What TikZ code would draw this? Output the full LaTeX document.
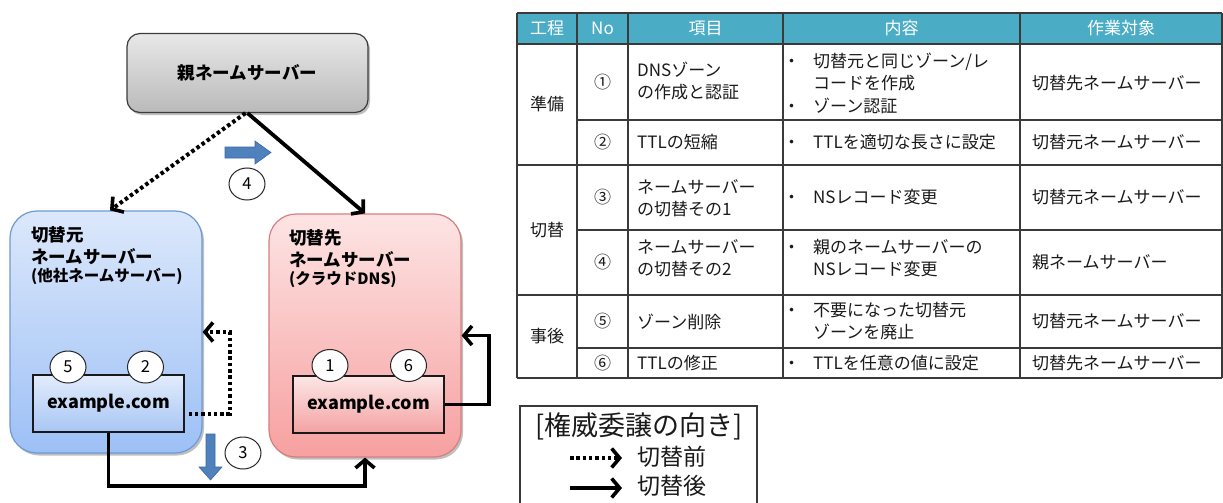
\documentclass[tikz,border=0pt]{standalone}
\usepackage{fontspec}
\setmainfont{Noto Sans CJK JP}
\usetikzlibrary{arrows.meta,shadows,shapes.geometric}
\definecolor{pgtop}{HTML}{E8E8E8}
\definecolor{pgbot}{HTML}{BABABA}
\definecolor{pgline}{HTML}{3C3C3C}
\definecolor{bltop}{HTML}{DCE8FB}
\definecolor{blbot}{HTML}{9DC0F6}
\definecolor{blline}{HTML}{6C9BD2}
\definecolor{rdtop}{HTML}{FDE4E4}
\definecolor{rdbot}{HTML}{F7A0A0}
\definecolor{rdline}{HTML}{D77F7F}
\definecolor{bztop}{HTML}{E2ECFC}
\definecolor{bzbot}{HTML}{A8C6F4}
\definecolor{rztop}{HTML}{FDE6E6}
\definecolor{rzbot}{HTML}{F4A2A2}
\definecolor{blkarrow}{HTML}{4F81BD}
\definecolor{blkedge}{HTML}{3A6AA5}
\definecolor{hdrfill}{HTML}{4BACC6}
\definecolor{tline}{HTML}{3A3A3A}
\definecolor{ttext}{HTML}{1A1A1A}
\newcommand\tbul{\makebox[30pt][l]{・}}
\newcommand\tind{\hspace*{30pt}}
\begin{document}
\begin{tikzpicture}[x=1pt,y=-1pt,
  shd/.style={drop shadow={shadow xshift=2pt,shadow yshift=-2.5pt,opacity=0.25,fill=black}},
  bigbox/.style={rounded corners=27pt,line width=1.2pt,inner sep=0,shd},
  zonebox/.style={draw=black!90,line width=1.3pt,minimum width=151pt,minimum height=57pt,inner sep=0,
     font=\fontsize{18}{20}\selectfont\bfseries},
  numc/.style={ellipse,draw=black!85,line width=1pt,fill=white,minimum width=36pt,minimum height=32pt,
     inner sep=0,font=\fontsize{16.5}{16.5}\selectfont},
  boxlbl/.style={anchor=base west,inner sep=0,font=\fontsize{17.5}{20}\selectfont\bfseries},
  boxsub/.style={anchor=base west,inner sep=0,font=\fontsize{15.5}{17}\selectfont\bfseries},
  solidarrow/.style={line width=3.8pt,-{Straight Barb[length=8pt,width=19pt,line width=3.6pt]}},
  dotarrow/.style={line width=4pt,dash pattern=on 3.5pt off 2.8pt,-{Straight Barb[length=8pt,width=19pt,line width=3.6pt]}},
  blockarrow/.style={fill=blkarrow,draw=blkedge,line width=0.6pt},
  hdr/.style={inner sep=0,text=white,font=\fontsize{17}{22.5}\selectfont},
  cell/.style={inner sep=0,text=ttext,align=left,anchor=west,font=\fontsize{17}{22.5}\selectfont},
  ccell/.style={inner sep=0,text=ttext,font=\fontsize{17}{22.5}\selectfont},
  tgrid/.style={draw=tline,line width=1.3pt},
  tgridb/.style={draw=tline,line width=1.8pt},
  legtxt/.style={inner sep=0,text=ttext}
]
\clip (0,0) rectangle (1223,503);
\fill[white] (0,0) rectangle (1223,503);

% ---------------- diagram ----------------
\node[draw=pgline,line width=1.2pt,rounded corners=13pt,top color=pgtop,bottom color=pgbot,
      minimum width=241pt,minimum height=79pt,inner sep=0,shd,
      font=\fontsize{17.5}{20}\selectfont\bfseries] (parent) at (247.5,73) {親ネームサーバー};

\node[bigbox,draw=blline,top color=bltop,bottom color=blbot,minimum width=192pt,minimum height=242pt] (src) at (106,332) {};
\node[bigbox,draw=rdline,top color=rdtop,bottom color=rdbot,minimum width=192pt,minimum height=243pt] (dst) at (365,335.5) {};

\node[boxlbl] (srcA) at (31,241) {切替元};
\node[boxlbl] (srcB) at (31,263) {ネームサーバー};
\node[boxsub] (srcC) at (31,281) {(他社ネームサーバー)};
\node[boxlbl] (dstA) at (289,244) {切替先};
\node[boxlbl] (dstB) at (289,266) {ネームサーバー};
\node[boxsub] (dstC) at (289,284) {(クラウドDNS)};

\node[zonebox,top color=bztop,bottom color=bzbot] (srcz) at (108.5,403.5) {example.com};
\node[zonebox,top color=rztop,bottom color=rzbot] (dstz) at (368.5,404.5) {example.com};

\node[numc] (n5) at (68,367) {5};
\node[numc] (n2) at (145.5,367) {2};
\node[numc] (n1) at (330,365.5) {1};
\node[numc] (n6) at (408.5,365.5) {6};
\node[numc] (n4) at (247,184) {4};
\node[numc] (n3) at (243,453) {3};

% delegation arrows
\draw[dotarrow] ([xshift=-2pt]parent.south) -- ([xshift=4pt]src.north);
\draw[solidarrow] (parent.south) -- (dst.north);
\draw[dotarrow] ([shift={(4,10)}]srcz.east) -| ([xshift=27pt]src.east) -- (src.east);
\draw[solidarrow] (dstz.east) -| ([xshift=27pt]dst.east) -- (dst.east);
\draw[solidarrow] (srcz.south) -- ++(0,53) -| (dst.south);

% block arrows
\draw[blockarrow] (225,147) -- (255,147) -- (255,141) -- (271,152.5) -- (255,164) -- (255,158) -- (225,158) -- cycle;
\draw[blockarrow] (206,434) -- (215,434) -- (215,467) -- (222,467) -- (210.5,480) -- (199,467) -- (206,467) -- cycle;

% ---------------- table ----------------
\fill[hdrfill] (517,13) rectangle (1222,44);
\node[hdr] (h1) at (547,28.5) {工程};
\node[hdr] (h2) at (602.5,28.5) {No};
\node[hdr] (h3) at (705.5,28.5) {項目};
\node[hdr] (h4) at (901.5,28.5) {内容};
\node[hdr] (h5) at (1121,28.5) {作業対象};

\draw[tgridb] (517,13) -- (1222,13);
\draw[tgridb] (517,44) -- (1222,44);
\draw[tgrid] (577,120) -- (1222,120);
\draw[tgridb] (517,165) -- (1222,165);
\draw[tgrid] (577,230) -- (1222,230);
\draw[tgridb] (517,295) -- (1222,295);
\draw[tgrid] (577,348) -- (1222,348);
\draw[tgridb] (517,378) -- (1222,378);
\foreach \cx in {517,577,628,783,1020,1222} {\draw[tgrid] (\cx,13) -- (\cx,378);}

\node[ccell] (g1) at (547,104.5) {準備};
\node[ccell] (g2) at (547,230) {切替};
\node[ccell] (g3) at (547,336.5) {事後};

\node[ccell] (no1) at (602.5,82) {①};
\node[ccell] (no2) at (602.5,142.5) {②};
\node[ccell] (no3) at (602.5,197.5) {③};
\node[ccell] (no4) at (602.5,262) {④};
\node[ccell] (no5) at (602.5,321.5) {⑤};
\node[ccell] (no6) at (602.5,363) {⑥};

\node[cell] (it1) at (637,81) {DNSゾーン\\の作成と認証};
\node[cell] (it2) at (637,142.5) {TTLの短縮};
\node[cell] (it3) at (637,198.5) {ネームサーバー\\の切替その1};
\node[cell] (it4) at (637,258) {ネームサーバー\\の切替その2};
\node[cell] (it5) at (637,321.5) {ゾーン削除};
\node[cell] (it6) at (637,363) {TTLの修正};

\node[cell] (ct1) at (783,83) {\tbul 切替元と同じゾーン/レ\\\tind コードを作成\\\tbul ゾーン認証};
\node[cell] (ct2) at (783,142.5) {\tbul TTLを適切な長さに設定};
\node[cell] (ct3) at (783,197.5) {\tbul NSレコード変更};
\node[cell] (ct4) at (783,258) {\tbul 親のネームサーバーの\\\tind NSレコード変更};
\node[cell] (ct5) at (783,321) {\tbul 不要になった切替元\\\tind ゾーンを廃止};
\node[cell] (ct6) at (783,363) {\tbul TTLを任意の値に設定};

\node[cell] (tg1) at (1032,83) {切替先ネームサーバー};
\node[cell] (tg2) at (1032,142.5) {切替元ネームサーバー};
\node[cell] (tg3) at (1032,197.5) {切替元ネームサーバー};
\node[cell] (tg4) at (1032,262) {親ネームサーバー};
\node[cell] (tg5) at (1032,321.5) {切替元ネームサーバー};
\node[cell] (tg6) at (1032,363) {切替先ネームサーバー};

% ---------------- legend ----------------
\draw[draw=tline,line width=1.2pt] (520,406) rectangle (757,520);
\node[legtxt,font=\fontsize{27}{29}\selectfont] (lt) at (639,426) {[権威委譲の向き]};
\node[legtxt,anchor=west,font=\fontsize{23}{25}\selectfont] (lb) at (637,457) {切替前};
\node[legtxt,anchor=west,font=\fontsize{23}{25}\selectfont] (la) at (637,486) {切替後};
\coordinate (lbs) at (570,458);
\coordinate (lbe) at (622,458);
\coordinate (las) at (570,488);
\coordinate (lae) at (622,488);
\draw[dotarrow] (lbs) -- (lbe);
\draw[solidarrow] (las) -- (lae);
\end{tikzpicture}
\end{document}
